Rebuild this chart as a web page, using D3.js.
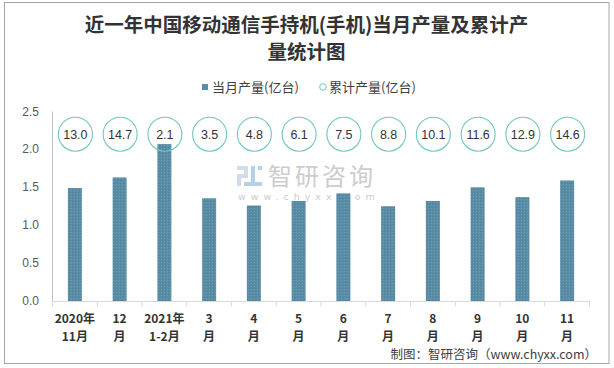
<!DOCTYPE html>
<html>
<head>
<meta charset="utf-8">
<script src="https://cdn.jsdelivr.net/npm/d3@7/dist/d3.min.js"></script>
<style>
  html, body { margin: 0; padding: 0; background: #fff; }
  svg { display: block; }
</style>
</head>
<body>
<svg id="chart" width="614" height="368"></svg>
<script>
// ---- data ----
const categories = ["2020年|11月", "12|月", "2021年|1-2月", "3|月", "4|月", "5|月", "6|月", "7|月", "8|月", "9|月", "10|月", "11|月"];
const monthlyOutput = [1.49, 1.63, 2.07, 1.355, 1.26, 1.32, 1.42, 1.25, 1.32, 1.50, 1.37, 1.59];
const cumulativeOutput = [13.0, 14.7, 2.1, 3.5, 4.8, 6.1, 7.5, 8.8, 10.1, 11.6, 12.9, 14.6];
const cumulativeMarkerLevel = 2.2; // fixed height on the value axis where the cumulative circles sit
const yTicks = [0, 0.5, 1.0, 1.5, 2.0, 2.5];
const titleLines = ["近一年中国移动通信手持机(手机)当月产量及累计产", "量统计图"];
const legendLabels = ["当月产量(亿台)", "累计产量(亿台)"];
const footerText = "制图：智研咨询（www.chyxx.com）";

// ---- layout ----
const W = 614, H = 368;
const plot = { left: 52.5, right: 589.5, top: 111.5, bottom: 301 };
const barColor = "#5a8da5";
const circleColor = "#6fc6bf";
const cjk = "'Noto Sans CJK SC', 'Noto Sans', sans-serif";

const svg = d3.select("#chart");

// pattern for dotted bar texture
const defs = svg.append("defs");
const pat = defs.append("pattern").attr("id", "dots").attr("patternUnits", "userSpaceOnUse")
  .attr("width", 3).attr("height", 3);
pat.append("rect").attr("width", 3).attr("height", 3).attr("fill", barColor);
pat.append("rect").attr("x", 0).attr("y", 0).attr("width", 1).attr("height", 1).attr("fill", "#4f8299");
pat.append("rect").attr("x", 2).attr("y", 1).attr("width", 1).attr("height", 1).attr("fill", "#66a0b6");

// border
svg.append("rect").attr("x", 4.5).attr("y", 2.5).attr("width", 604.5).attr("height", 361)
  .attr("fill", "#fff").attr("stroke", "#a6a6a6").attr("stroke-width", 1);

// title
svg.append("g").selectAll("text").data(titleLines).join("text")
  .attr("x", 306.5).attr("y", (d, i) => 32 + i * 27)
  .attr("text-anchor", "middle")
  .attr("font-family", "'Noto Sans CJK SC', serif")
  .attr("font-weight", "bold").attr("font-size", 19.5)
  .attr("fill", "#333").text(d => d);

// legend
const lg = svg.append("g");
lg.append("rect").attr("x", 202).attr("y", 84).attr("width", 6).attr("height", 6).attr("fill", barColor);
lg.append("text").attr("x", 212).attr("y", 91.5).attr("font-family", cjk).attr("font-size", 13)
  .attr("fill", "#404040").text(legendLabels[0]);
lg.append("circle").attr("cx", 323).attr("cy", 87).attr("r", 3.3).attr("fill", "#fff")
  .attr("stroke", circleColor).attr("stroke-width", 1);
lg.append("text").attr("x", 329).attr("y", 91.5).attr("font-family", cjk).attr("font-size", 13)
  .attr("fill", "#404040").text(legendLabels[1]);

// scales
const x = d3.scaleBand().domain(categories).range([plot.left, plot.right]).padding(0);
const y = d3.scaleLinear().domain([0, 2.5]).range([plot.bottom, plot.top]);

// watermark
const wm = svg.append("g").attr("opacity", 0.85);
wm.append("rect").attr("x", 237).attr("y", 166).attr("width", 11).attr("height", 4).attr("fill", "#c9d6ea");
wm.append("rect").attr("x", 244).attr("y", 166).attr("width", 4).attr("height", 11).attr("fill", "#c9d6ea");
wm.append("rect").attr("x", 237).attr("y", 174).attr("width", 11).attr("height", 4).attr("fill", "#c9d6ea");
wm.append("rect").attr("x", 237).attr("y", 174).attr("width", 4).attr("height", 12).attr("fill", "#c9d6ea");
wm.append("rect").attr("x", 251).attr("y", 166).attr("width", 4).attr("height", 16).attr("fill", "#a9c8e6");
wm.append("rect").attr("x", 244).attr("y", 182).attr("width", 18).attr("height", 4).attr("fill", "#a9c8e6");
wm.append("rect").attr("x", 258).attr("y", 166).attr("width", 4).attr("height", 4).attr("fill", "#a9c8e6");
wm.append("text").attr("x", 268).attr("y", 185).attr("font-family", cjk).attr("font-size", 24)
  .attr("letter-spacing", 3).attr("fill", "#c4c4c4").text("智研咨询");
wm.append("text").attr("x", 238).attr("y", 200).attr("font-family", "'DejaVu Sans', sans-serif").attr("font-size", 9.5)
  .attr("letter-spacing", 5).attr("fill", "#c4c4c4").text("www.chyxx.com");

// y axis labels
svg.append("g").selectAll("text").data(yTicks).join("text")
  .attr("x", 39).attr("y", d => y(d) + 4)
  .attr("text-anchor", "end")
  .attr("font-family", "'Liberation Sans', Arial, sans-serif").attr("font-size", 12)
  .attr("fill", "#595959").text(d => d.toFixed(1));

// left axis line
svg.append("line").attr("x1", plot.left).attr("x2", plot.left).attr("y1", plot.top).attr("y2", plot.bottom)
  .attr("stroke", "#bfbfbf").attr("stroke-width", 1);

// bars
const barW = 14;
svg.append("g").selectAll("rect").data(monthlyOutput).join("rect")
  .attr("x", (d, i) => x(categories[i]) + x.bandwidth() / 2 - barW / 2)
  .attr("y", d => y(d))
  .attr("width", barW)
  .attr("height", d => plot.bottom - y(d))
  .attr("fill", "url(#dots)");

// x axis
const xAxis = d3.axisBottom(x).tickSize(0).tickFormat("");
const xg = svg.append("g").attr("transform", `translate(0,${plot.bottom + 0.5})`).call(xAxis);
xg.select(".domain").attr("stroke", "#d9d9d9").attr("d", `M${plot.left},0H${plot.right}`);
const bounds = categories.map(c => x(c)).concat([plot.right]);
xg.selectAll(".bnd").data(bounds).join("line").attr("class", "bnd")
  .attr("x1", d => d).attr("x2", d => d).attr("y1", 0).attr("y2", 5)
  .attr("stroke", "#d9d9d9").attr("stroke-width", 1);

// x labels
const xl = svg.append("g").selectAll("text").data(categories).join("text")
  .attr("text-anchor", "middle")
  .attr("font-family", cjk).attr("font-weight", "bold").attr("font-size", 12)
  .attr("fill", "#333");
xl.selectAll("tspan").data(d => d.split("|").map(s => ({ s, c: d }))).join("tspan")
  .attr("x", d => x(d.c) + x.bandwidth() / 2)
  .attr("y", (d, i) => 323 + i * 17.5)
  .text(d => d.s);

// cumulative circles
const cg = svg.append("g");
cg.selectAll("circle").data(cumulativeOutput).join("circle")
  .attr("cx", (d, i) => x(categories[i]) + x.bandwidth() / 2 + 0.5)
  .attr("cy", y(cumulativeMarkerLevel))
  .attr("r", 17)
  .attr("fill", "none")
  .attr("stroke", circleColor).attr("stroke-width", 1.1);
cg.selectAll("text").data(cumulativeOutput).join("text")
  .attr("x", (d, i) => x(categories[i]) + x.bandwidth() / 2 + 0.5)
  .attr("y", y(cumulativeMarkerLevel) + 4.5)
  .attr("text-anchor", "middle")
  .attr("font-family", "'Liberation Sans', Arial, sans-serif").attr("font-size", 12.5)
  .attr("fill", "#333").text(d => d.toFixed(1));

// footer
svg.append("text").attr("x", 597).attr("y", 358.5).attr("text-anchor", "end")
  .attr("font-family", cjk).attr("font-size", 12.5).attr("fill", "#404040").text(footerText);
</script>
</body>
</html>
